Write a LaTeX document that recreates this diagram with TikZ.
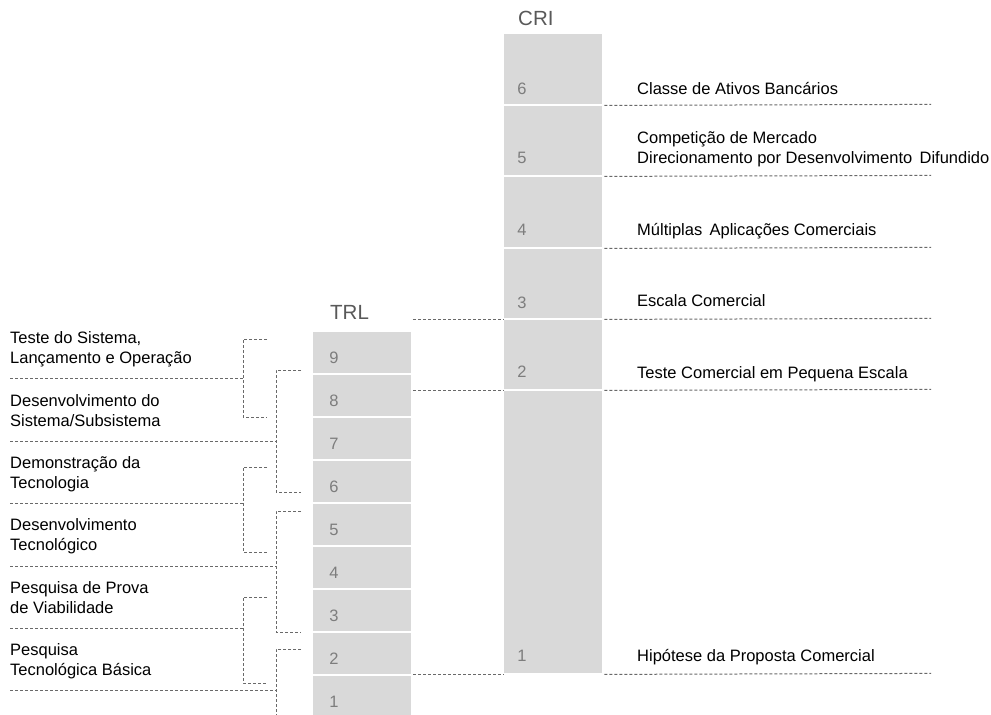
\documentclass[tikz,border=0pt]{standalone}
\usepackage{fontspec}
\setmainfont{Liberation Sans}
\definecolor{cellgray}{RGB}{217,217,217}
\definecolor{numgray}{RGB}{125,125,125}
\definecolor{headgray}{RGB}{89,89,89}
\definecolor{linegray}{RGB}{105,105,105}
\begin{document}
\begin{tikzpicture}[x=1pt,y=-1pt,
  trlcell/.style={fill=cellgray,draw=none,minimum width=98pt,minimum height=41pt,anchor=north west,inner sep=0pt},
  cricell/.style={fill=cellgray,draw=none,minimum width=98pt,anchor=north west,inner sep=0pt},
  num/.style={text=numgray,font=\fontsize{16.5}{20}\selectfont,anchor=base,inner sep=0pt},
  lbl/.style={text=black,font=\fontsize{16.5}{20}\selectfont,anchor=base west,align=left,inner sep=0pt},
  head/.style={text=headgray,font=\fontsize{20.5}{24}\selectfont,anchor=base west,inner sep=0pt},
  dl/.style={draw=linegray,line width=1pt,dash pattern=on 3pt off 2pt}
]
\useasboundingbox (0,0) rectangle (991,715);
\fill[white] (0,0) rectangle (991,715);

% ---- TRL column ----
\node[head] (trl) at (330,319) {TRL};
\foreach \i in {1,...,9}{
  \pgfmathsetmacro\ytop{332+(9-\i)*43}
  \node[trlcell] (t\i) at (313,\ytop) {};
  \node[num] (tn\i) at (334,\ytop+31) {\i};
}

% ---- CRI column ----
\node[head] (cri) at (518,25) {CRI};
\node[cricell,minimum height=70pt]  (c6) at (504,34)  {};
\node[cricell,minimum height=69pt]  (c5) at (504,106) {};
\node[cricell,minimum height=70pt]  (c4) at (504,177) {};
\node[cricell,minimum height=69pt]  (c3) at (504,249) {};
\node[cricell,minimum height=69pt]  (c2) at (504,320) {};
\node[cricell,minimum height=282pt] (c1) at (504,391) {};
\node[num] (cn6) at (522,94)  {6};
\node[num] (cn5) at (522,163) {5};
\node[num] (cn4) at (522,235) {4};
\node[num] (cn3) at (522,308) {3};
\node[num] (cn2) at (522,377) {2};
\node[num] (cn1) at (522,661) {1};

% ---- CRI descriptions (base anchor = last line) ----
\node[lbl] (d6) at (637,94)  {Classe de Ativos Bancários};
\node[lbl] (d5) at (637,163) {Competição de Mercado\\Direcionamento por Desenvolvimento\ \,Difundido};
\node[lbl] (d4) at (637,235) {Múltiplas\ \,Aplicações Comerciais};
\node[lbl] (d3) at (637,306) {Escala Comercial};
\node[lbl] (d2) at (637,378) {Teste Comercial em Pequena Escala};
\node[lbl] (d1) at (637,661) {Hipótese da Proposta Comercial};

% separators to the right of the CRI column
\foreach \c in {6,5,4,3,2,1}{
  \coordinate (r\c) at ([xshift=2pt]c\c.south east -| 929,0);
  \draw[dl] (c\c.south east) ++(2,1) -- (r\c);
}
% separators between the two columns
\coordinate (l3) at (413,319);
\coordinate (l2) at (413,390);
\coordinate (l1) at (413,674);
\draw[dl] (l3) -- (l3 -| c3.west);
\draw[dl] (l2) -- (l2 -| c2.west);
\draw[dl] (l1) -- (l1 -| c1.west);

% ---- TRL descriptions (base anchor = last line) ----
\node[lbl] (a) at (10,363) {Teste do Sistema,\\Lançamento e Operação};
\node[lbl] (b) at (10,426) {Desenvolvimento do\\Sistema/Subsistema};
\node[lbl] (c) at (10,488) {Demonstração da\\Tecnologia};
\node[lbl] (d) at (10,550) {Desenvolvimento\\Tecnológico};
\node[lbl] (e) at (10,613) {Pesquisa de Prova\\de Viabilidade};
\node[lbl] (f) at (10,675) {Pesquisa\\Tecnológica Básica};

% ---- brackets and rules on the left ----
% inner brackets
\draw[dl] (267,339) -- (243,339) -- (243,417) -- (267,417);
\draw[dl] (10,378) -- (243,378);
\draw[dl] (267,467) -- (243,467) -- (243,552) -- (267,552);
\draw[dl] (10,503) -- (243,503);
\draw[dl] (267,597) -- (243,597) -- (243,683) -- (267,683);
\draw[dl] (10,628) -- (243,628);
% outer brackets
\draw[dl] (301,370) -- (276,370) -- (276,492) -- (301,492);
\draw[dl] (10,441) -- (276,441);
\draw[dl] (301,511) -- (276,511) -- (276,632) -- (301,632);
\draw[dl] (10,566) -- (276,566);
\draw[dl] (301,649) -- (276,649) -- (276,715);
\draw[dl] (10,690) -- (276,690);
\end{tikzpicture}
\end{document}
